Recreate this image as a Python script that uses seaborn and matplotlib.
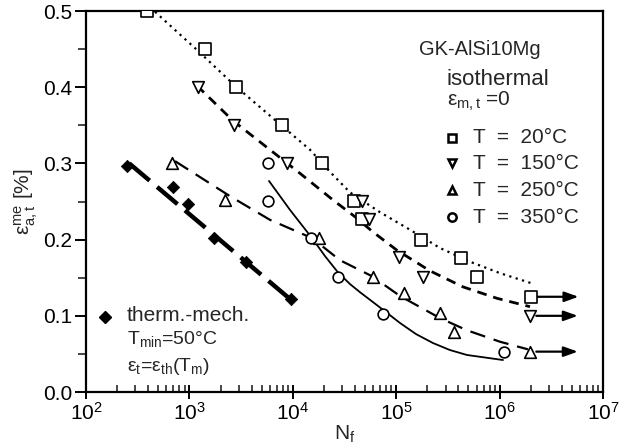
import numpy as np
import pandas as pd
import matplotlib
matplotlib.use("Agg")
import matplotlib.pyplot as plt
import seaborn as sns
from matplotlib.ticker import MultipleLocator, LogLocator, NullFormatter, FormatStrFormatter

# ---------------- data ----------------
N20 = [390, 1420, 2830, 7900, 19000, 39000, 47000, 174000, 424000, 604000, 2.0e6]
e20 = [0.50, 0.45, 0.40, 0.35, 0.30, 0.251, 0.227, 0.20, 0.176, 0.151, 0.125]

N150 = [1200, 2700, 8800, 46700, 54600, 106000, 182000, 1.97e6]
e150 = [0.40, 0.35, 0.30, 0.251, 0.227, 0.177, 0.151, 0.10]

N250 = [684, 2210, 17900, 59700, 119000, 265000, 363000, 1.97e6]
e250 = [0.30, 0.252, 0.202, 0.151, 0.130, 0.104, 0.079, 0.053]

N350 = [5760, 5760, 15000, 27400, 74500, 1.1e6]
e350 = [0.30, 0.251, 0.202, 0.151, 0.102, 0.053]

Ntm = [249, 693, 968, 1730, 3510, 9610]
etm = [0.297, 0.269, 0.247, 0.202, 0.171, 0.122]

# fitted curves
fit20_N = [465, 1184, 2761, 6730, 14660, 22900, 35740, 69700, 135900, 265400, 517600, 1.009e6, 2.01e6]
fit20_e = [0.499, 0.449, 0.402, 0.357, 0.318, 0.289, 0.262, 0.236, 0.213, 0.189, 0.171, 0.156, 0.143]

fit150_N = [1184, 2644, 6010, 11740, 24500, 39990, 59700, 101900, 212500, 442800, 943000, 1.968e6]
fit150_e = [0.402, 0.356, 0.318, 0.287, 0.252, 0.230, 0.210, 0.186, 0.159, 0.138, 0.123, 0.112]

fit250_N = [726, 2472, 6010, 15350, 28580, 58350, 108900, 265400, 484000, 1.009e6, 1.88e6]
fit250_e = [0.303, 0.257, 0.226, 0.202, 0.173, 0.152, 0.126, 0.097, 0.081, 0.066, 0.056]

fit350_N = [5888, 9400, 15350, 20460, 27350, 35740, 44670, 74500, 108900, 155300,
            226800, 331000, 484000, 722000, 1.079e6]
fit350_e = [0.277, 0.239, 0.202, 0.1785, 0.157, 0.1417, 0.131, 0.108, 0.0906, 0.0761,
            0.0643, 0.0551, 0.0486, 0.0453, 0.042]

fittm_N = [262, 9800]
fittm_e = [0.300, 0.120]

legend_labels = ["T  =  20°C", "T  =  150°C", "T  =  250°C", "T  =  350°C"]
xtick_vals = [1e2, 1e3, 1e4, 1e5, 1e6, 1e7]
ytick_vals = [0.0, 0.1, 0.2, 0.3, 0.4, 0.5]

# ---------------- style ----------------
sns.set_theme(style="ticks")
plt.rcParams["font.family"] = ["Liberation Sans", "DejaVu Sans"]
plt.rcParams["mathtext.fontset"] = "custom"
plt.rcParams["mathtext.rm"] = "Liberation Sans"
plt.rcParams["mathtext.it"] = "Liberation Sans:italic"
plt.rcParams["mathtext.bf"] = "Liberation Sans:bold"

fig = plt.figure(figsize=(6.24, 4.47), dpi=100)
ax = fig.add_axes([0.1378, 0.123, 0.8285, 0.8523])

K = "black"

# fitted lines
sns.lineplot(x=fit20_N, y=fit20_e, ax=ax, color=K, sort=False, estimator=None,
             linestyle=(0, (1, 2.0)), linewidth=1.6)
sns.lineplot(x=fit150_N, y=fit150_e, ax=ax, color=K, sort=False, estimator=None,
             linestyle=(0, (3.5, 2.5)), linewidth=2.0)
sns.lineplot(x=fit250_N, y=fit250_e, ax=ax, color=K, sort=False, estimator=None,
             linestyle=(0, (7, 4)), linewidth=1.6)
sns.lineplot(x=fit350_N, y=fit350_e, ax=ax, color=K, sort=False, estimator=None,
             linestyle="-", linewidth=1.3)
sns.lineplot(x=fittm_N, y=fittm_e, ax=ax, color=K, sort=False, estimator=None,
             linestyle=(0, (6, 2.2)), linewidth=3.2)

# data points
sns.scatterplot(x=N20, y=e20, ax=ax, marker="s", s=65, facecolor="white",
                edgecolor=K, linewidth=1.2, zorder=5)
sns.scatterplot(x=N150, y=e150, ax=ax, marker="v", s=70, facecolor="white",
                edgecolor=K, linewidth=1.2, zorder=5)
sns.scatterplot(x=N250, y=e250, ax=ax, marker="^", s=70, facecolor="white",
                edgecolor=K, linewidth=1.2, zorder=5)
sns.scatterplot(x=N350, y=e350, ax=ax, marker="o", s=60, facecolor="white",
                edgecolor=K, linewidth=1.2, zorder=5)
sns.scatterplot(x=Ntm, y=etm, ax=ax, marker="D", s=40, color=K,
                edgecolor=K, linewidth=0.5, zorder=5)

# run-out arrows
for Nr, er in [(N20[-1], e20[-1]), (N150[-1], e150[-1]), (N250[-1], e250[-1])]:
    ax.annotate("", xy=(Nr * 2.9, er), xytext=(Nr * 1.15, er),
                arrowprops=dict(arrowstyle="-|>,head_length=0.7,head_width=0.25",
                                color=K, lw=1.6, shrinkA=0, shrinkB=0))

# axes
ax.set_xscale("log")
ax.set_xlim(xtick_vals[0], xtick_vals[-1])
ax.set_ylim(ytick_vals[0], ytick_vals[-1])
ax.set_xticks(xtick_vals)
ax.xaxis.set_minor_locator(LogLocator(base=10, subs=np.arange(2, 10), numticks=20))
ax.xaxis.set_minor_formatter(NullFormatter())
ax.set_yticks(ytick_vals)
ax.yaxis.set_minor_locator(MultipleLocator(0.05))
ax.yaxis.set_major_formatter(FormatStrFormatter("%.1f"))

for sp in ax.spines.values():
    sp.set_visible(True)
    sp.set_linewidth(1.6)
    sp.set_color(K)

ax.tick_params(axis="x", which="major", direction="inout", length=10, width=1.4,
               labelsize=15, pad=2, colors=K, top=False)
ax.tick_params(axis="x", which="minor", direction="in", length=5, width=1.2, top=False)
ax.tick_params(axis="y", which="major", direction="out", length=8, width=1.4,
               labelsize=15, pad=2, colors=K, right=False)
ax.tick_params(axis="y", which="minor", direction="out", length=6, width=1.2, right=False)

ax.set_xlabel(r"N$_\mathrm{f}$", fontsize=15, labelpad=0)
ax.set_ylabel(r"$\mathrm{ε}_{\mathrm{a,t}}^{\mathrm{me}}$ [%]", fontsize=15, labelpad=2)
ax.grid(False)

# annotation texts
ax.text(0.762, 0.90, "GK-AlSi10Mg", transform=ax.transAxes, fontsize=14.5,
        ha="center", va="center")
ax.text(0.698, 0.820, "isothermal", transform=ax.transAxes, fontsize=16,
        ha="left", va="center")
ax.text(0.698, 0.762, r"$\mathrm{ε}_{\mathrm{m,t}}$ =0", transform=ax.transAxes,
        fontsize=15, ha="left", va="center")

leg_y = [0.667, 0.601, 0.530, 0.459]
leg_m = ["s", "v", "^", "o"]
for yy, mk, lab in zip(leg_y, leg_m, legend_labels):
    ax.plot([0.708], [yy], transform=ax.transAxes, marker=mk, ms=6,
            mfc="white", mec=K, mew=1.8, linestyle="none", clip_on=False)
    ax.text(0.749, yy, lab, transform=ax.transAxes, fontsize=15,
            ha="left", va="center")

ax.plot([0.037], [0.197], transform=ax.transAxes, marker="D", ms=6,
        color=K, linestyle="none")
ax.text(0.079, 0.202, "therm.-mech.", transform=ax.transAxes, fontsize=15,
        ha="left", va="center")
ax.text(0.079, 0.139, r"T$_{\mathrm{min}}$=50°C", transform=ax.transAxes,
        fontsize=14, ha="left", va="center")
ax.text(0.079, 0.066, r"$\mathrm{ε}_{\mathrm{t}}$=$\mathrm{ε}_{\mathrm{th}}$(T$_{\mathrm{m}}$)",
        transform=ax.transAxes, fontsize=14, ha="left", va="center")

fig.savefig("out.png", dpi=100)
